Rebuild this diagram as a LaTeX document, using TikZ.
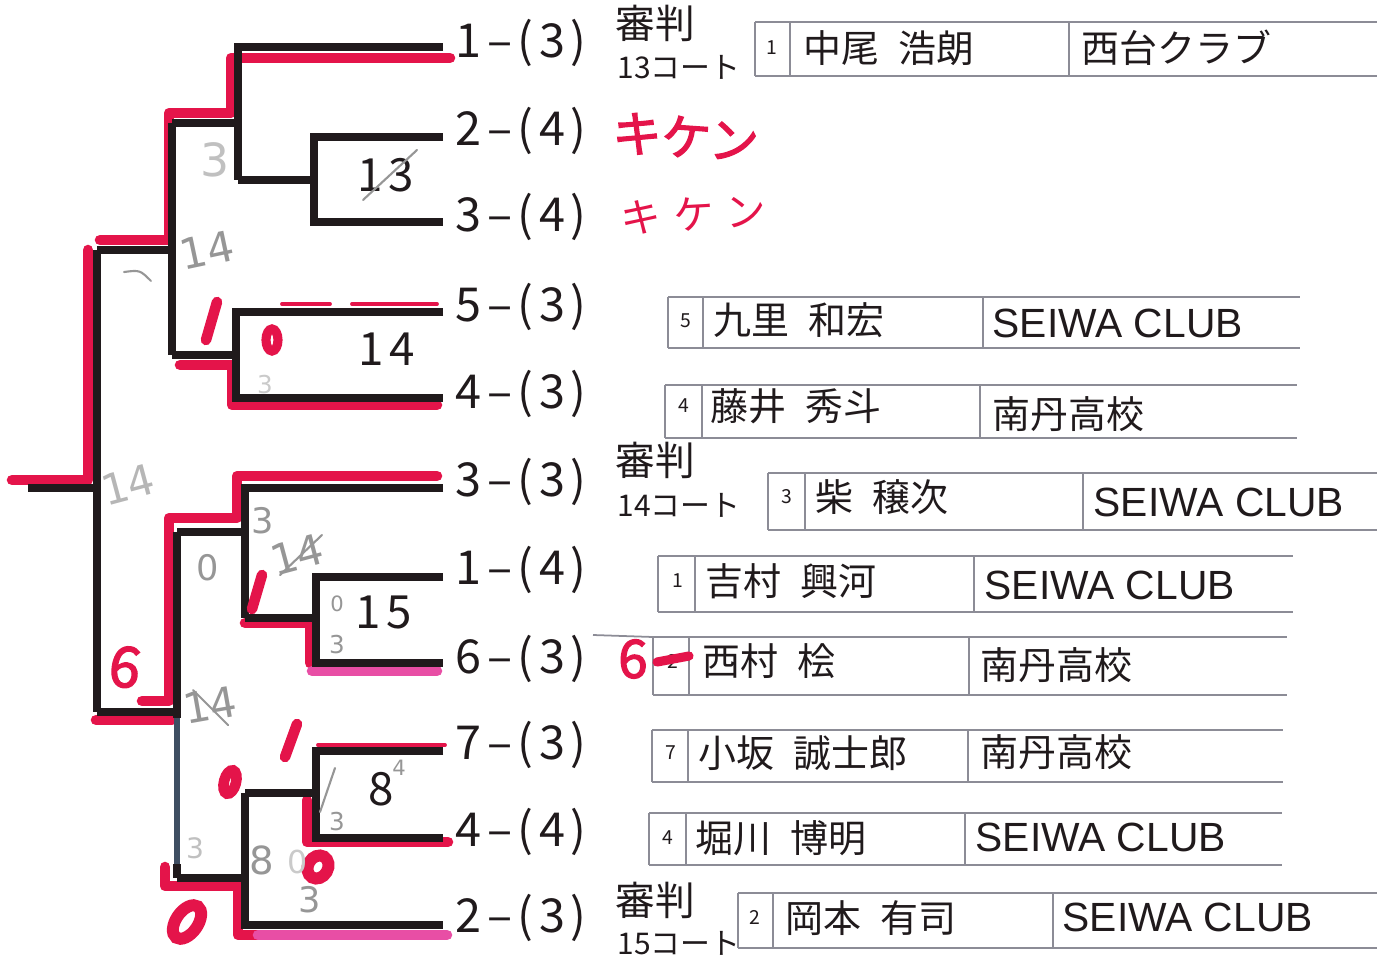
\documentclass[tikz,border=0pt]{standalone}
\usepackage{fontspec}
\setmainfont{Noto Sans CJK JP}
\newfontfamily\jpf{Noto Sans CJK JP}
\newfontfamily\labf[LetterSpace=12]{Noto Sans CJK JP}
\newfontfamily\latf{Liberation Sans}
\newfontfamily\mkf[FakeBold=2.5]{Noto Sans CJK JP}
\newfontfamily\penf{DejaVu Sans}
\definecolor{ink}{RGB}{32,26,28}
\definecolor{mk}{RGB}{228,20,74}
\definecolor{pk}{RGB}{232,78,165}
\definecolor{tabc}{RGB}{140,140,150}
\definecolor{pen}{RGB}{150,150,150}
\definecolor{blu}{RGB}{62,78,98}
\newcommand\prow[6]{%
  \draw[tb] (#1,#2) -- (#6,#2);
  \draw[tb] (#1,#3) -- (#6,#3);
  \draw[tb] (#1,#2) -- (#1,#3);
  \draw[tb] (#4,#2) -- (#4,#3);
  \draw[tb] (#5,#2) -- (#5,#3);}
\begin{document}
\begin{tikzpicture}[x=0.01cm,y=-0.01cm,
  br/.style={draw=ink,line width=2.3pt,line join=miter},
  bl/.style={draw=blu,line width=1.9pt},
  hl/.style={draw=mk,line width=3pt,line cap=round,line join=round},
  hlt/.style={draw=mk,line width=1.1pt,line cap=round},
  pkl/.style={draw=pk,line width=3pt,line cap=round},
  tb/.style={draw=tabc,line width=0.5pt},
  lab/.style={anchor=west,inner sep=0pt,text=ink,font=\labf\fontsize{13.3}{13}\selectfont},
  mno/.style={inner sep=0pt,text=ink,font=\labf\fontsize{13}{13}\selectfont},
  refn/.style={anchor=west,inner sep=0pt,text=ink,font=\jpf\fontsize{11.3}{12}\selectfont},
  court/.style={anchor=west,inner sep=0pt,text=ink,font=\jpf\fontsize{8.5}{9}\selectfont},
  num/.style={inner sep=0pt,text=ink,font=\jpf\fontsize{5.5}{6}\selectfont},
  nm/.style={anchor=west,inner sep=0pt,text=ink,font=\jpf\fontsize{10.8}{11}\selectfont},
  clubj/.style={anchor=west,inner sep=0pt,text=ink,font=\jpf\fontsize{10.8}{11}\selectfont},
  clubl/.style={anchor=west,inner sep=0pt,text=ink,font=\latf\fontsize{11.6}{12}\selectfont},
  pn/.style={inner sep=0pt,text=pen,font=\penf\fontsize{10}{10}\selectfont},
  pnl/.style={draw=pen,line width=0.6pt,line cap=round},
  rd/.style={inner sep=0pt,text=mk,font=\mkf\fontsize{15}{15}\selectfont}
]
\useasboundingbox (0,0) rectangle (1377,958);

% ---------- leaf ends ----------
\coordinate (L1) at (443,47);
\coordinate (L2) at (443,137);
\coordinate (L3) at (443,222);
\coordinate (L4) at (443,312);
\coordinate (L5) at (443,398);
\coordinate (L6) at (443,488);
\coordinate (L7) at (443,577);
\coordinate (L8) at (443,663);
\coordinate (L9) at (443,751);
\coordinate (L10) at (443,838);
\coordinate (L11) at (443,925);
% ---------- match joints ----------
\coordinate (M13o) at (314,180);  \coordinate (M13p) at (238,180);
\coordinate (Q1o) at (238,123);   \coordinate (Q1p) at (172,123);
\coordinate (M14o) at (236,355);  \coordinate (M14p) at (172,355);
\coordinate (S1o) at (172,250);   \coordinate (S1p) at (97,250);
\coordinate (M15o) at (316,618);  \coordinate (M15p) at (245,618);
\coordinate (Q3o) at (245,532);   \coordinate (Q3p) at (177,532);
\coordinate (M8o) at (316,793);   \coordinate (M8p) at (245,793);
\coordinate (Q4o) at (245,878);   \coordinate (Q4p) at (177,878);
\coordinate (S2o) at (177,712);   \coordinate (S2p) at (97,712);
\coordinate (S2a) at (177,718);   \coordinate (S2b) at (177,864);
\coordinate (Fo) at (97,488);     \coordinate (Fp) at (28,488);

% ---------- red winner marks (under black) ----------
\draw[hl] (450,58) -- (231,58) -- (231,113) -- (169,113) -- (169,240) -- (100,240);
\draw[hl] (88,250) -- (88,480) -- (12,480);
\draw[hl] (437,405) -- (232,405) -- (232,365) -- (180,365);
\draw[hlt] (282,304) -- (330,304) (352,304) -- (437,304);
\draw[hl] (437,476) -- (237,476) -- (237,518) -- (169,518) -- (169,701) -- (142,701);
\draw[hl] (172,720) -- (96,720);
\draw[hl] (245,623) -- (310,623) -- (310,663);
\draw[pkl] (312,671) -- (437,671);
\draw[hlt] (318,745) -- (445,745);
\draw[hl] (307,800) -- (307,842) -- (448,842);
\draw[hl] (165,867) -- (165,886) -- (238,886) -- (238,935) -- (258,935);
\draw[pkl] (258,935) -- (447,935);

% ---------- bracket ----------
\draw[br] (L2) -| (M13o) |- (L3);  \draw[br] (M13o) -- (M13p);
\draw[br] (L1) -| (Q1o) |- (M13p); \draw[br] (Q1o) -- (Q1p);
\draw[br] (L4) -| (M14o) |- (L5);  \draw[br] (M14o) -- (M14p);
\draw[br] (Q1p) -- (S1o) -- (M14p); \draw[br] (S1o) -- (S1p);
\draw[br] (L7) -| (M15o) |- (L8);  \draw[br] (M15o) -- (M15p);
\draw[br] (L6) -| (Q3o) |- (M15p); \draw[br] (Q3o) -- (Q3p);
\draw[br] (L9) -| (M8o) |- (L10);  \draw[br] (M8o) -- (M8p);
\draw[br] (M8p) -- (Q4o) |- (L11); \draw[br] (Q4o) -- (Q4p);
\draw[br] (Q3p) -- (S2a); \draw[bl] (S2a) -- (S2b); \draw[br] (S2b) -- (Q4p);
\draw[br] (S2o) -- (S2p);
\draw[br] (S1p) -- (Fo) -- (S2p); \draw[br] (Fo) -- (Fp);

% ---------- match numbers ----------
\node[mno] (m13) at (386,175) {13};
\node[mno] (m14) at (387,349) {14};
\node[mno] (m15) at (384,612) {15};
\node[mno] (m8)  at (381,789) {8};

% ---------- entry labels ----------
\node[lab] (t1) at (455,43) {1–(3)};
\node[lab] (t2) at (455,131) {2–(4)};
\node[lab] (t3) at (455,217) {3–(4)};
\node[lab] (t4) at (455,307) {5–(3)};
\node[lab] (t5) at (455,394) {4–(3)};
\node[lab] (t6) at (455,482) {3–(3)};
\node[lab] (t7) at (455,570) {1–(4)};
\node[lab] (t8) at (455,659) {6–(3)};
\node[lab] (t9) at (455,745) {7–(3)};
\node[lab] (t10) at (455,832) {4–(4)};
\node[lab] (t11) at (455,918) {2–(3)};

% ---------- referee / court ----------
\node[refn] (r1) at (615,23) {審判};
\node[court] (k1) at (617,67) {13コート};
\node[refn] (r2) at (615,460) {審判};
\node[court] (k2) at (617,505) {14コート};
\node[refn] (r3) at (615,900) {審判};
\node[court] (k3) at (617,943) {15コート};

% ---------- player rows ----------
\prow{755}{22}{76}{790}{1069}{1377}
\node[num] (n1) at (772,48) {1};
\node[nm] (p1) at (803,48) {中尾\hspace{0.5em}浩朗};
\node[clubj] (c1) at (1081,48) {西台クラブ};

\prow{668}{297}{348}{703}{983}{1300}
\node[num] (n2) at (686,321) {5};
\node[nm] (p2) at (713,320) {九里\hspace{0.5em}和宏};
\node[clubl] (c2) at (992,323) {SEIWA CLUB};

\prow{665}{385}{438}{702}{980}{1297}
\node[num] (n3) at (684,406) {4};
\node[nm] (p3) at (710,406) {藤井\hspace{0.5em}秀斗};
\node[clubj] (c3) at (992,414) {南丹高校};

\prow{768}{473}{530}{805}{1083}{1377}
\node[num] (n4) at (787,497) {3};
\node[nm] (p4) at (815,497) {柴\hspace{0.5em}穣次};
\node[clubl] (c4) at (1093,502) {SEIWA CLUB};

\prow{658}{556}{612}{695}{974}{1293}
\node[num] (n5) at (678,581) {1};
\node[nm] (p5) at (705,581) {吉村\hspace{0.5em}興河};
\node[clubl] (c5) at (984,585) {SEIWA CLUB};

\draw[tb] (593,635) -- (653,637);
\prow{653}{637}{695}{689}{969}{1287}
\node[num] (n6) at (673,661) {2};
\node[nm] (p6) at (702,661) {西村\hspace{0.5em}桧};
\node[clubj] (c6) at (980,665) {南丹高校};

\prow{652}{730}{782}{688}{968}{1283}
\node[num] (n7) at (671,753) {7};
\node[nm] (p7) at (698,753) {小坂\hspace{0.5em}誠士郎};
\node[clubj] (c7) at (980,752) {南丹高校};

\prow{649}{813}{865}{686}{965}{1282}
\node[num] (n8) at (668,838) {4};
\node[nm] (p8) at (695,838) {堀川\hspace{0.5em}博明};
\node[clubl] (c8) at (975,837) {SEIWA CLUB};

\prow{738}{893}{948}{773}{1053}{1377}
\node[num] (n9) at (755,917) {2};
\node[nm] (p9) at (785,918) {岡本\hspace{0.5em}有司};
\node[clubl] (c9) at (1062,917) {SEIWA CLUB};

% ---------- red handwriting ----------
\node[rd,anchor=west,font=\mkf\fontsize{14}{14}\selectfont,rotate=-4] (kk1) at (612,132) {キケン};
\node[anchor=west,inner sep=0pt,text=mk,font=\jpf\fontsize{11.5}{12}\selectfont,rotate=3] (kk2) at (620,218) {キ\hspace{0.3em}ケ\hspace{0.3em}ン};
\draw[mk,line width=3pt,line cap=round] (217,302) -- (206,340);
\draw[mk,line width=2.6pt] (272,340) ellipse [x radius=6, y radius=11];
\draw[mk,line width=3pt,line cap=round] (262,575) -- (252,609);
\node[rd,font=\mkf\fontsize{16}{16}\selectfont,rotate=-8] (six1) at (125,667) {6};
\draw[mk,line width=3pt,line cap=round] (297,724) -- (285,757);
\draw[mk,line width=3pt,rotate around={-15:(230,782)}] (230,782) ellipse [x radius=6, y radius=12];
\draw[mk,line width=3.4pt,rotate around={-30:(318,867)}] (318,867) ellipse [x radius=10, y radius=12];
\draw[mk,line width=3.4pt,rotate around={-35:(187,922)}] (187,922) ellipse [x radius=11, y radius=19];
\node[rd,font=\mkf\fontsize{15}{15}\selectfont] (six2) at (633,659) {6};
\draw[mk,line width=2.6pt,line cap=round] (657,662) -- (689,656);

% ---------- pencil marks ----------
\node[pn,text=pen!60,font=\penf\fontsize{13}{13}\selectfont] (g1) at (215,160) {3};
\node[pn,font=\penf\fontsize{12}{12}\selectfont,rotate=12] (g2) at (207,250) {14};
\draw[pnl] (124,272) .. controls (140,270) .. (151,281);
\node[pn,text=pen!50,font=\penf\fontsize{7}{7}\selectfont] (g3) at (265,385) {3};
\node[pn,text=pen!70,font=\penf\fontsize{12}{12}\selectfont,rotate=15] (g4) at (128,485) {14};
\node[pn,font=\penf\fontsize{10}{10}\selectfont] (g5) at (263,521) {3};
\node[pn,font=\penf\fontsize{12}{12}\selectfont,rotate=15] (g6) at (297,555) {14};
\draw[pnl] (280,575) -- (322,535);
\node[pn,font=\penf\fontsize{10}{10}\selectfont] (g7) at (208,568) {0};
\node[pn,font=\penf\fontsize{6}{6}\selectfont] (g8) at (337,604) {0};
\node[pn,font=\penf\fontsize{7}{7}\selectfont] (g9) at (337,645) {3};
\node[pn,font=\penf\fontsize{12}{12}\selectfont,rotate=10] (g10) at (210,705) {14};
\draw[pnl] (193,690) -- (228,725);
\node[pn,text=pen!60,font=\penf\fontsize{8}{8}\selectfont] (g11) at (195,848) {3};
\node[pn,font=\penf\fontsize{11}{11}\selectfont] (g12) at (262,860) {8};
\node[pn,font=\penf\fontsize{10}{10}\selectfont] (g13) at (310,900) {3};
\node[pn,text=pen!50,font=\penf\fontsize{9}{9}\selectfont] (g14) at (298,862) {0};
\draw[pnl] (320,812) -- (335,768);
\node[pn,font=\penf\fontsize{7}{7}\selectfont] (g15) at (337,822) {3};
\node[pn,font=\penf\fontsize{6}{6}\selectfont] (g16) at (399,768) {4};
\draw[pnl] (363,200) -- (417,150);
\end{tikzpicture}
\end{document}
